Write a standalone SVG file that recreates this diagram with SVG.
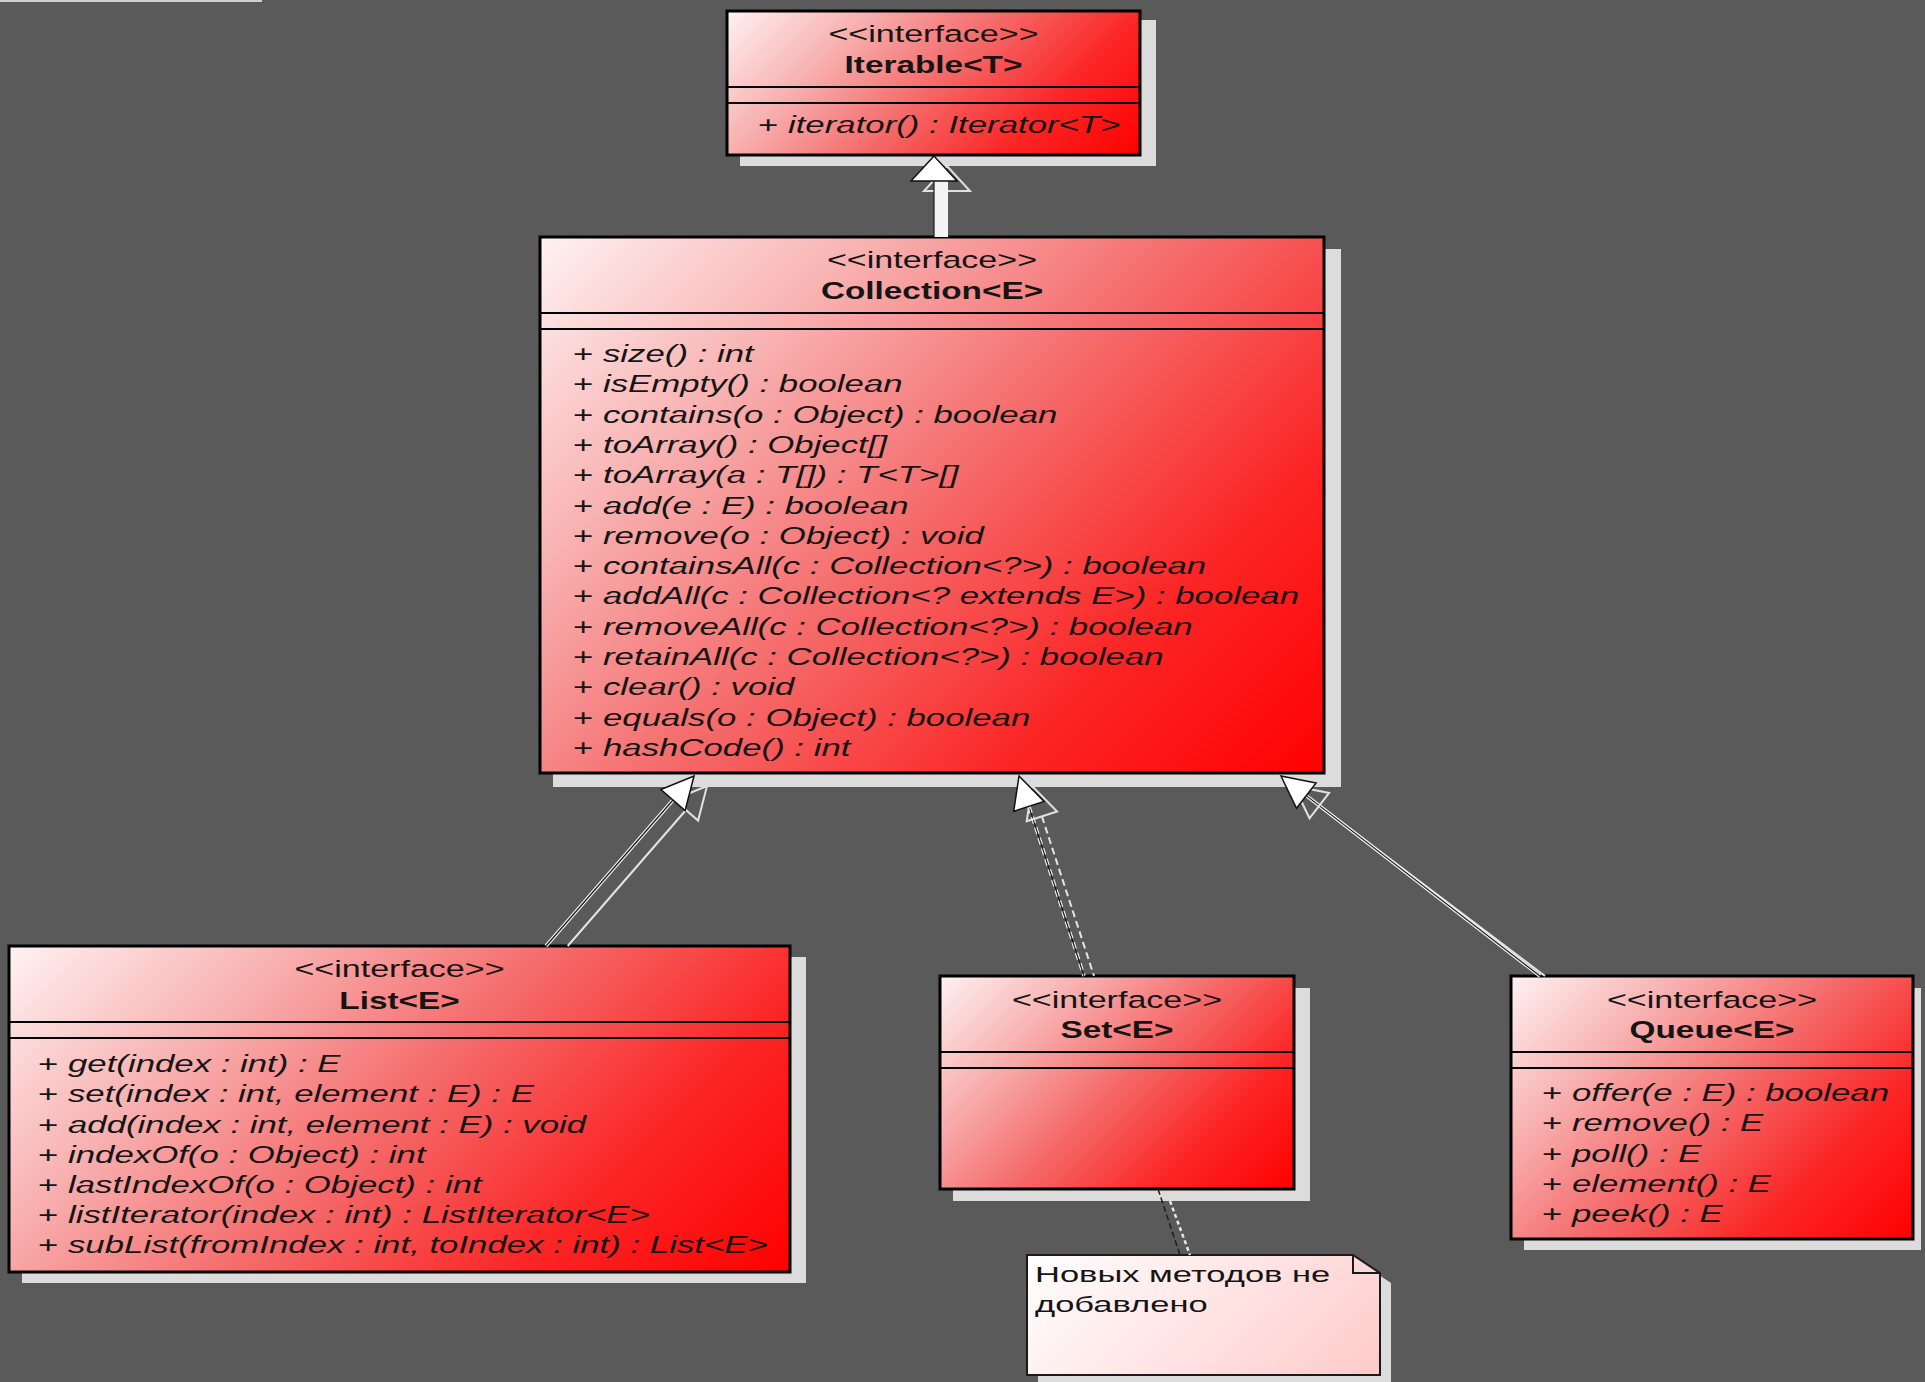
<svg xmlns="http://www.w3.org/2000/svg" width="1925" height="1382" viewBox="0 0 1925 1382">
<defs>
<linearGradient id="red">
<stop offset="0" stop-color="#fff2f2"/>
<stop offset="0.25" stop-color="#f8b2b2"/>
<stop offset="0.5" stop-color="#f56a6a"/>
<stop offset="0.75" stop-color="#fb2626"/>
<stop offset="1" stop-color="#ff0000"/>
</linearGradient>
<linearGradient id="pink">
<stop offset="0" stop-color="#ffffff"/>
<stop offset="1" stop-color="#ffcaca"/>
</linearGradient>
<linearGradient id="gIt" href="#red" gradientUnits="userSpaceOnUse" x1="727" y1="11" x2="1005.5" y2="289.5"/>
<linearGradient id="gCo" href="#red" gradientUnits="userSpaceOnUse" x1="540" y1="237" x2="1200" y2="897"/>
<linearGradient id="gLi" href="#red" gradientUnits="userSpaceOnUse" x1="9" y1="946" x2="562.5" y2="1499.5"/>
<linearGradient id="gSe" href="#red" gradientUnits="userSpaceOnUse" x1="940" y1="976" x2="1223.5" y2="1259.5"/>
<linearGradient id="gQu" href="#red" gradientUnits="userSpaceOnUse" x1="1511" y1="976" x2="1843.5" y2="1308.5"/>
<linearGradient id="gNo" href="#pink" gradientUnits="userSpaceOnUse" x1="1027" y1="1255" x2="1263.5" y2="1491.5"/>
<style>
.sh{fill:#dcdcdc}
.box{stroke:#000;stroke-width:3}
.div{stroke:#000;stroke-width:2;fill:none}
text{font-family:"Liberation Sans",Arial,sans-serif;fill:#151515}
.st{font-size:23.5px;text-anchor:middle}
.nm{font-size:23px;font-weight:bold;text-anchor:middle}
.m{font-size:24px;font-style:italic}
.p{font-style:normal}
.nt{font-size:22px}
.lw{stroke:#f2f2f2;stroke-width:3.5;fill:none}
.lk{stroke:#1a1a1a;stroke-width:1.2;fill:none}
.ls{stroke:#e4e4e4;stroke-width:2;fill:none}
.dash{stroke-dasharray:7 4}
.tri{fill:#ffffff;stroke:#111;stroke-width:1.5}
.tris{fill:none;stroke:#e0e0e0;stroke-width:2}
</style>
</defs>
<rect x="0" y="0" width="1925" height="1382" fill="#5a5a5a"/>
<rect x="0" y="0" width="262" height="2" fill="#cfcfcf"/>

<g id="iterable">
<rect class="sh" x="740" y="20" width="416" height="146"/>
<rect class="box" x="727" y="11" width="413" height="144" fill="url(#gIt)"/>
<line class="div" x1="727" y1="87" x2="1140" y2="87"/>
<line class="div" x1="727" y1="103" x2="1140" y2="103"/>
<text class="st" transform="translate(933.5,42) scale(1.45,1)">&lt;&lt;interface&gt;&gt;</text>
<text class="nm" transform="translate(933.5,73) scale(1.45,1)">Iterable&lt;T&gt;</text>
<text class="m" transform="translate(758,133) scale(1.45,1)"><tspan class="p">+ </tspan>iterator() : Iterator&lt;T&gt;</text>
</g>

<g id="collection">
<rect class="sh" x="553" y="249" width="788" height="538"/>
<rect class="box" x="540" y="237" width="784" height="536" fill="url(#gCo)"/>
<line class="div" x1="540" y1="313" x2="1324" y2="313"/>
<line class="div" x1="540" y1="329" x2="1324" y2="329"/>
<text class="st" transform="translate(932,268) scale(1.45,1)">&lt;&lt;interface&gt;&gt;</text>
<text class="nm" transform="translate(932,299) scale(1.45,1)">Collection&lt;E&gt;</text>
<text class="m" transform="translate(573,362) scale(1.45,1)"><tspan class="p">+ </tspan>size() : int</text>
<text class="m" transform="translate(573,392.3) scale(1.45,1)"><tspan class="p">+ </tspan>isEmpty() : boolean</text>
<text class="m" transform="translate(573,422.6) scale(1.45,1)"><tspan class="p">+ </tspan>contains(o : Object) : boolean</text>
<text class="m" transform="translate(573,452.9) scale(1.45,1)"><tspan class="p">+ </tspan>toArray() : Object[]</text>
<text class="m" transform="translate(573,483.2) scale(1.45,1)"><tspan class="p">+ </tspan>toArray(a : T[]) : T&lt;T&gt;[]</text>
<text class="m" transform="translate(573,513.5) scale(1.45,1)"><tspan class="p">+ </tspan>add(e : E) : boolean</text>
<text class="m" transform="translate(573,543.8) scale(1.45,1)"><tspan class="p">+ </tspan>remove(o : Object) : void</text>
<text class="m" transform="translate(573,574.1) scale(1.45,1)"><tspan class="p">+ </tspan>containsAll(c : Collection&lt;?&gt;) : boolean</text>
<text class="m" transform="translate(573,604.4) scale(1.45,1)"><tspan class="p">+ </tspan>addAll(c : Collection&lt;? extends E&gt;) : boolean</text>
<text class="m" transform="translate(573,634.7) scale(1.45,1)"><tspan class="p">+ </tspan>removeAll(c : Collection&lt;?&gt;) : boolean</text>
<text class="m" transform="translate(573,665) scale(1.45,1)"><tspan class="p">+ </tspan>retainAll(c : Collection&lt;?&gt;) : boolean</text>
<text class="m" transform="translate(573,695.3) scale(1.45,1)"><tspan class="p">+ </tspan>clear() : void</text>
<text class="m" transform="translate(573,725.6) scale(1.45,1)"><tspan class="p">+ </tspan>equals(o : Object) : boolean</text>
<text class="m" transform="translate(573,755.9) scale(1.45,1)"><tspan class="p">+ </tspan>hashCode() : int</text>
</g>

<g id="list">
<rect class="sh" x="22" y="957" width="784" height="326"/>
<rect class="box" x="9" y="946" width="781" height="326" fill="url(#gLi)"/>
<line class="div" x1="9" y1="1022" x2="790" y2="1022"/>
<line class="div" x1="9" y1="1038" x2="790" y2="1038"/>
<text class="st" transform="translate(399.5,977) scale(1.45,1)">&lt;&lt;interface&gt;&gt;</text>
<text class="nm" transform="translate(399.5,1009) scale(1.45,1)">List&lt;E&gt;</text>
<text class="m" transform="translate(38,1072) scale(1.45,1)"><tspan class="p">+ </tspan>get(index : int) : E</text>
<text class="m" transform="translate(38,1102) scale(1.45,1)"><tspan class="p">+ </tspan>set(index : int, element : E) : E</text>
<text class="m" transform="translate(38,1132.5) scale(1.45,1)"><tspan class="p">+ </tspan>add(index : int, element : E) : void</text>
<text class="m" transform="translate(38,1162.5) scale(1.45,1)"><tspan class="p">+ </tspan>indexOf(o : Object) : int</text>
<text class="m" transform="translate(38,1192.5) scale(1.45,1)"><tspan class="p">+ </tspan>lastIndexOf(o : Object) : int</text>
<text class="m" transform="translate(38,1222.5) scale(1.45,1)"><tspan class="p">+ </tspan>listIterator(index : int) : ListIterator&lt;E&gt;</text>
<text class="m" transform="translate(38,1252.5) scale(1.45,1)"><tspan class="p">+ </tspan>subList(fromIndex : int, toIndex : int) : List&lt;E&gt;</text>
</g>

<g id="set">
<rect class="sh" x="953" y="988" width="357" height="213"/>
<rect class="box" x="940" y="976" width="354" height="213" fill="url(#gSe)"/>
<line class="div" x1="940" y1="1052" x2="1294" y2="1052"/>
<line class="div" x1="940" y1="1068" x2="1294" y2="1068"/>
<text class="st" transform="translate(1117,1008) scale(1.45,1)">&lt;&lt;interface&gt;&gt;</text>
<text class="nm" transform="translate(1117,1038) scale(1.45,1)">Set&lt;E&gt;</text>
</g>

<g id="queue">
<rect class="sh" x="1524" y="988" width="397" height="262"/>
<rect class="box" x="1511" y="976" width="402" height="263" fill="url(#gQu)"/>
<line class="div" x1="1511" y1="1052" x2="1913" y2="1052"/>
<line class="div" x1="1511" y1="1068" x2="1913" y2="1068"/>
<text class="st" transform="translate(1712,1008) scale(1.45,1)">&lt;&lt;interface&gt;&gt;</text>
<text class="nm" transform="translate(1712,1038) scale(1.45,1)">Queue&lt;E&gt;</text>
<text class="m" transform="translate(1542,1101) scale(1.45,1)"><tspan class="p">+ </tspan>offer(e : E) : boolean</text>
<text class="m" transform="translate(1542,1131) scale(1.45,1)"><tspan class="p">+ </tspan>remove() : E</text>
<text class="m" transform="translate(1542,1161.5) scale(1.45,1)"><tspan class="p">+ </tspan>poll() : E</text>
<text class="m" transform="translate(1542,1191.5) scale(1.45,1)"><tspan class="p">+ </tspan>element() : E</text>
<text class="m" transform="translate(1542,1221.5) scale(1.45,1)"><tspan class="p">+ </tspan>peek() : E</text>
</g>

<g id="note">
<path class="sh" d="M1038,1265 H1364 L1391,1283 V1392 H1038 Z"/>
<path d="M1027,1255 H1353 L1380,1273 V1375 H1027 Z" fill="url(#gNo)" stroke="#1a1a1a" stroke-width="2"/>
<path d="M1353,1255 V1273 H1380" fill="none" stroke="#1a1a1a" stroke-width="2"/>
<text class="nt" transform="translate(1035,1282) scale(1.57,1)">Новых методов не</text>
<text class="nt" transform="translate(1035,1312) scale(1.57,1)">добавлено</text>
</g>

<g id="connectors">
<!-- Collection -> Iterable -->
<polygon class="tris" points="947,166 924,191 970,191"/>
<rect x="934" y="181" width="14" height="56" fill="#f4f4f4"/>
<line class="lk" x1="934" y1="181" x2="934" y2="237"/>
<polygon class="tri" points="934,156 911,181 957,181"/>
<!-- List -> Collection -->
<line class="ls" x1="686" y1="810" x2="567.7" y2="946"/>
<line class="lw" x1="673" y1="800" x2="546" y2="946"/>
<line class="lk" x1="673" y1="800" x2="546" y2="946"/>
<polygon class="tris" points="707,786 698.1,820.6 673.9,799.6"/>
<polygon class="tri" points="694,776 685.1,810.6 660.9,789.6"/>
<!-- Set -> Collection -->
<line class="ls dash" x1="1041.9" y1="816.4" x2="1094" y2="976"/>
<line class="lw dash" x1="1028.9" y1="806.4" x2="1084" y2="976"/>
<line class="lk" x1="1028.9" y1="806.4" x2="1084" y2="976"/>
<polygon class="tris" points="1032,786 1057.1,811.5 1026.7,821.3"/>
<polygon class="tri" points="1019,776 1044.1,801.5 1013.7,811.3"/>
<!-- Queue -> Collection -->
<line class="ls" x1="1319.3" y1="805.6" x2="1545" y2="976"/>
<line class="lw" x1="1306.3" y1="795.6" x2="1540" y2="976"/>
<line class="lk" x1="1306.3" y1="795.6" x2="1540" y2="976"/>
<polygon class="tris" points="1294,786 1329.1,792.9 1309.5,818.3"/>
<polygon class="tri" points="1281,776 1316.1,782.9 1296.5,808.3"/>
<!-- Note -> Set -->
<line stroke="#e6e6e6" stroke-width="2.5" stroke-dasharray="4 3" x1="1170" y1="1201" x2="1190" y2="1255"/>
<line stroke="#1e1e1e" stroke-width="1.5" stroke-dasharray="6 3" x1="1158" y1="1189" x2="1180" y2="1255"/>
</g>
</svg>
